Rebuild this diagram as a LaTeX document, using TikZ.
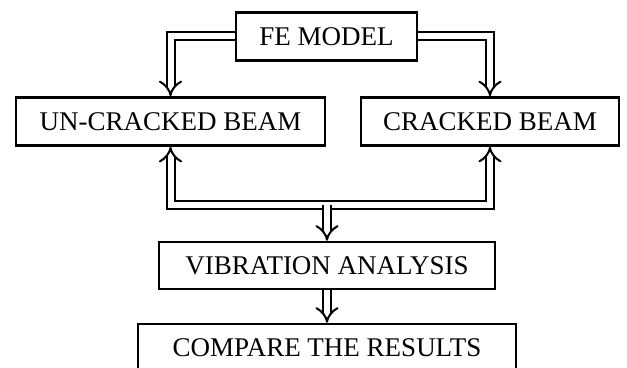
\documentclass[tikz,border=0pt]{standalone}
\usepackage{fontspec}
\setmainfont{Liberation Serif}
\usetikzlibrary{arrows.meta}

\begin{document}
\begin{tikzpicture}[
        x=0.5pt, y=-0.5pt,
        box/.style={draw,line width=1.3pt,minimum height=24pt,inner sep=0pt,
          font=\fontsize{13.5}{15}\selectfont},
        dbl/.style={double,double distance=3pt,line width=1pt,-{Implies}}
      ]
      \useasboundingbox (0,0) rectangle (627,368);
      \node (fe) [box,minimum width=90.5pt] at (326.5,36.5) {FE MODEL};
      \node (uncracked) [box,minimum width=154.5pt] at (170.5,121.5) {UN-CRACKED BEAM};
      \node (cracked) [box,minimum width=129pt] at (490,121.5) {CRACKED BEAM};
      \node (vib) [box,minimum width=168pt,minimum height=23.5pt] at (327,265.5) {VIBRATION ANALYSIS};
      \node (cmp) [box,minimum width=189pt] at (327,348) {COMPARE THE RESULTS};
      \coordinate (join) at (327,205);

      \draw[dbl] (fe.west) -| (uncracked.north);
      \draw[dbl] (fe.east) -| (cracked.north);
      \draw[dbl,{Implies}-{Implies}] (uncracked.south) |- (join) -| (cracked.south);
      \draw[dbl] (join) -- (vib.north);
      \draw[dbl] (vib.south) -- (cmp.north);
    \end{tikzpicture}
\end{document}
